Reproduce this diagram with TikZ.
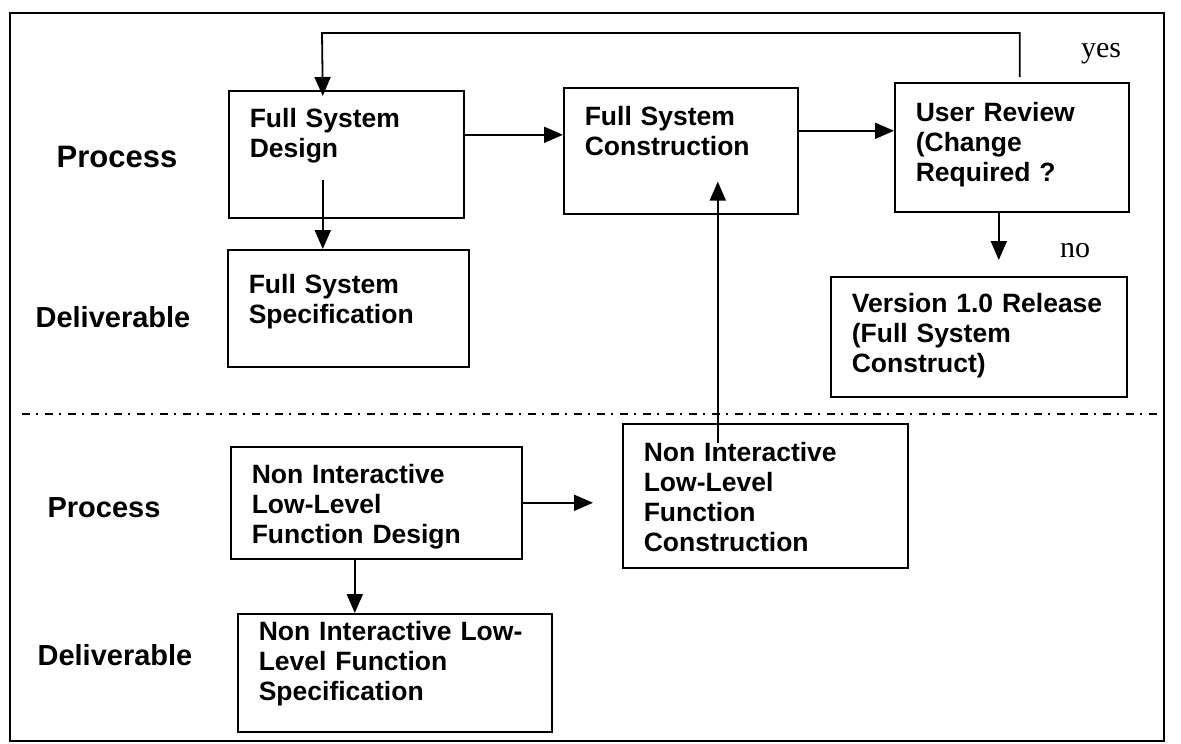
\documentclass[tikz,border=0pt]{standalone}
\usepackage{fontspec}
\setmainfont{Liberation Sans}
\newfontfamily\yesnofont{Liberation Serif}
\usepackage{tikz}
\usetikzlibrary{arrows.meta}
\newcommand{\boxfont}{\fontsize{26.5}{30}\selectfont\bfseries}
\newcommand{\rowfont}{\fontsize{29}{32}\selectfont\bfseries}
\tikzstyle{stage} = [rectangle, draw=black, line width=1.6pt, anchor=north west, align=left, inner xsep=21pt, inner ysep=0pt, font=\boxfont]
\tikzstyle{rowlabel} = [anchor=base, font=\rowfont]
\tikzstyle{answer} = [anchor=base, font=\yesnofont\fontsize{30}{32}\selectfont]
\tikzstyle{arrow} = [line width=1.8pt, -{Triangle[length=19pt,width=16pt]}]

\begin{document}
\begin{tikzpicture}[x=1pt, y=-1pt]
        \useasboundingbox (0,0) rectangle (1181,744);
        \draw [line width=1.6pt] (10,13) rectangle (1164,741);

        % row labels
        \node (procTop) [rowlabel, font=\fontsize{31}{34}\selectfont\bfseries] at (117,167) {Process};
        \node (delivTop) [rowlabel] at (113,327) {Deliverable};
        \node (procLow) [rowlabel] at (104,517) {Process};
        \node (delivLow) [rowlabel] at (115,665) {Deliverable};

        % full system
        \node (fsd) [stage, text width=193pt, text height=37pt, text depth=90pt] at (228,90) {Full System\\Design};
        \node (fss) [stage, text width=199pt, text height=44pt, text depth=73pt] at (227,249) {Full System\\Specification};
        \node (fsc) [stage, text width=192pt, text height=38pt, text depth=88pt] at (563,87) {Full System\\Construction};
        \node (urv) [stage, text width=192pt, text height=39pt, text depth=90pt] at (894,82) {User Review\\(Change\\Required ?};
        \node (rel) [stage, text width=254pt, text height=36pt, text depth=84pt] at (830,276) {Version 1.0 Release\\(Full System\\Construct)};

        % non interactive low-level functions
        \node (nid) [stage, text width=249pt, text height=37pt, text depth=75pt] at (230,446) {Non Interactive\\Low-Level\\Function Design};
        \node (nic) [stage, text width=243pt, text height=38pt, text depth=106pt] at (622,423) {Non Interactive\\Low-Level\\Function\\Construction};
        \node (nis) [stage, text width=272pt, text height=27pt, text depth=91pt] at (237,613) {Non Interactive Low-\\Level Function\\Specification};

        \coordinate (sepL) at (22,414);
        \coordinate (sepR) at (1160,414);
        \draw [line width=1.5pt, dash pattern=on 8pt off 6pt on 2pt off 7pt] (sepL) -- (sepR);

        \coordinate (loopTop) at (322,33);
        \node (yes) [answer] at (1101,57) {yes};
        \node (no) [answer] at (1075,257) {no};

        \draw [arrow] ([yshift=19.5pt]fsd.east) -- ([yshift=16pt]fsc.west);
        \draw [arrow] ([yshift=20pt]fsc.east) -- ([yshift=16.5pt]urv.west);
        \draw [arrow] ([xshift=-23.5pt,yshift=39pt]fsd.south) -- ([xshift=-23.5pt]fsd.south |- fss.north);
        \draw [arrow] ([xshift=8pt,yshift=5pt]urv.north) |- (loopTop) -- ([xshift=-23.5pt,yshift=-6pt]fsd.north);
        \draw [arrow] ([xshift=-13pt]urv.south) -- ([xshift=20pt,yshift=16pt]rel.north);
        \draw [arrow] (nid.east) -- ([xshift=-29pt,yshift=-7pt]nic.west);
        \draw [arrow] ([xshift=-47.5pt,yshift=-20pt]nic.north) -- ([xshift=37pt,yshift=33pt]fsc.south);
        \draw [arrow] ([xshift=-21.5pt]nid.south) -- ([xshift=-40pt]nis.north);
    \end{tikzpicture}
\end{document}
